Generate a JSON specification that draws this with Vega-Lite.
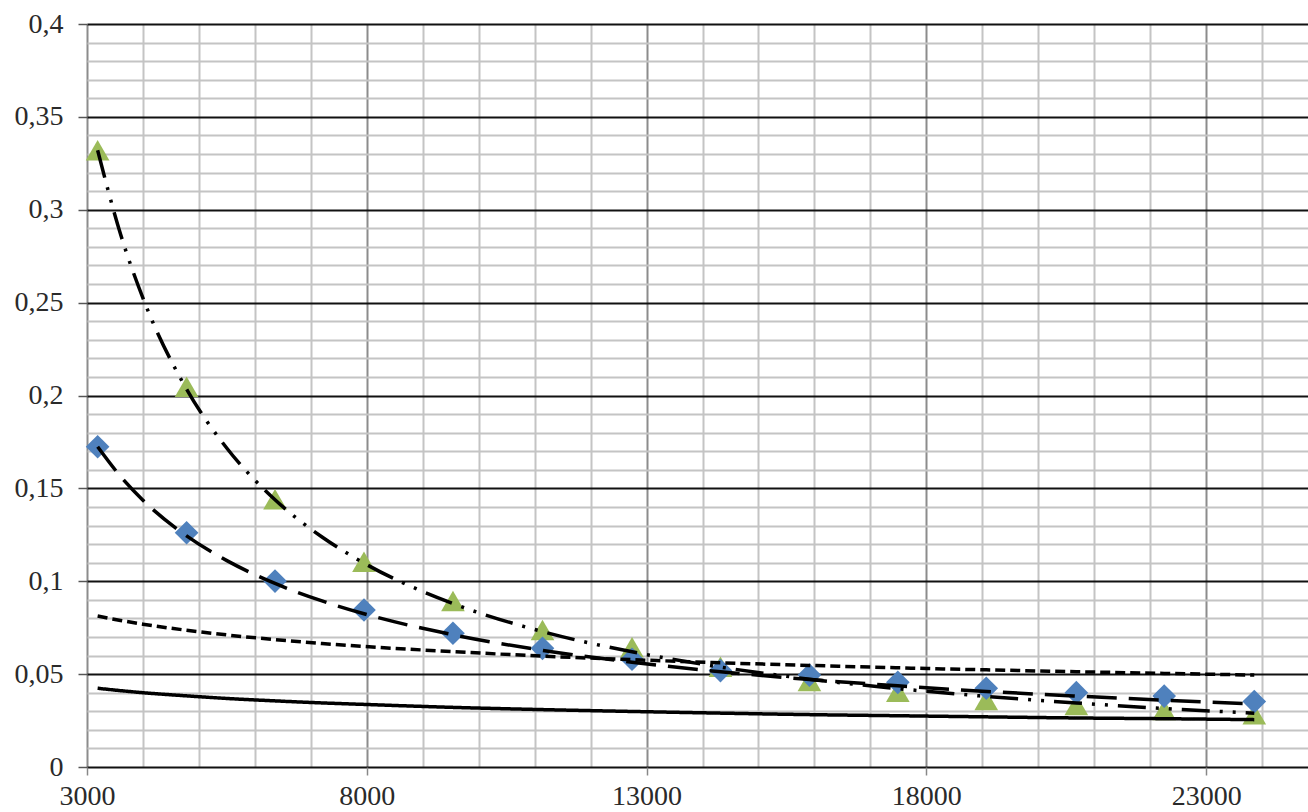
{
  "$schema": "https://vega.github.io/schema/vega-lite/v6.json",
  "width": 1221,
  "height": 743,
  "autosize": {"type": "none"},
  "padding": {"left": 87, "top": 24, "right": 0, "bottom": 45},
  "background": "white",
  "config": {"view": {"stroke": null}},
  "datasets": {
    "points": [
      {"x": 3190, "y": 0.332, "series": "G"},
      {"x": 4780, "y": 0.2047, "series": "G"},
      {"x": 6360, "y": 0.1441, "series": "G"},
      {"x": 7950, "y": 0.1105, "series": "G"},
      {"x": 9540, "y": 0.0894, "series": "G"},
      {"x": 11140, "y": 0.0738, "series": "G"},
      {"x": 12740, "y": 0.0645, "series": "G"},
      {"x": 14320, "y": 0.054, "series": "G"},
      {"x": 15910, "y": 0.0463, "series": "G"},
      {"x": 17490, "y": 0.0405, "series": "G"},
      {"x": 19070, "y": 0.0361, "series": "G"},
      {"x": 20680, "y": 0.0334, "series": "G"},
      {"x": 22250, "y": 0.0307, "series": "G"},
      {"x": 23860, "y": 0.0284, "series": "G"},
      {"x": 3190, "y": 0.1724, "series": "B"},
      {"x": 4780, "y": 0.1261, "series": "B"},
      {"x": 6360, "y": 0.1001, "series": "B"},
      {"x": 7950, "y": 0.0845, "series": "B"},
      {"x": 9540, "y": 0.072, "series": "B"},
      {"x": 11140, "y": 0.0639, "series": "B"},
      {"x": 12740, "y": 0.058, "series": "B"},
      {"x": 14320, "y": 0.0519, "series": "B"},
      {"x": 15910, "y": 0.0495, "series": "B"},
      {"x": 17490, "y": 0.0456, "series": "B"},
      {"x": 19070, "y": 0.0424, "series": "B"},
      {"x": 20680, "y": 0.04, "series": "B"},
      {"x": 22250, "y": 0.0382, "series": "B"},
      {"x": 23860, "y": 0.0352, "series": "B"}
    ],
    "curves": [
      {"x": 3190, "y": 0.332, "line": "G"},
      {"x": 3600, "y": 0.2868, "line": "G"},
      {"x": 4000, "y": 0.2524, "line": "G"},
      {"x": 4780, "y": 0.2034, "line": "G"},
      {"x": 5500, "y": 0.1716, "line": "G"},
      {"x": 6360, "y": 0.1439, "line": "G"},
      {"x": 7200, "y": 0.1238, "line": "G"},
      {"x": 7950, "y": 0.1098, "line": "G"},
      {"x": 9540, "y": 0.088, "line": "G"},
      {"x": 11140, "y": 0.0729, "line": "G"},
      {"x": 12740, "y": 0.062, "line": "G"},
      {"x": 14320, "y": 0.0538, "line": "G"},
      {"x": 15910, "y": 0.0473, "line": "G"},
      {"x": 17490, "y": 0.0422, "line": "G"},
      {"x": 19070, "y": 0.038, "line": "G"},
      {"x": 20680, "y": 0.0345, "line": "G"},
      {"x": 22250, "y": 0.0315, "line": "G"},
      {"x": 23860, "y": 0.029, "line": "G"},
      {"x": 3190, "y": 0.1724, "line": "B"},
      {"x": 3600, "y": 0.1564, "line": "B"},
      {"x": 4000, "y": 0.1436, "line": "B"},
      {"x": 4780, "y": 0.1244, "line": "B"},
      {"x": 5500, "y": 0.1111, "line": "B"},
      {"x": 6360, "y": 0.0988, "line": "B"},
      {"x": 7200, "y": 0.0894, "line": "B"},
      {"x": 7950, "y": 0.0825, "line": "B"},
      {"x": 9540, "y": 0.0712, "line": "B"},
      {"x": 11140, "y": 0.0628, "line": "B"},
      {"x": 12740, "y": 0.0564, "line": "B"},
      {"x": 14320, "y": 0.0513, "line": "B"},
      {"x": 15910, "y": 0.0471, "line": "B"},
      {"x": 17490, "y": 0.0437, "line": "B"},
      {"x": 19070, "y": 0.0407, "line": "B"},
      {"x": 20680, "y": 0.0382, "line": "B"},
      {"x": 22250, "y": 0.036, "line": "B"},
      {"x": 23860, "y": 0.034, "line": "B"},
      {"x": 3190, "y": 0.0813, "line": "S"},
      {"x": 3600, "y": 0.0789, "line": "S"},
      {"x": 4000, "y": 0.0769, "line": "S"},
      {"x": 4780, "y": 0.0736, "line": "S"},
      {"x": 5500, "y": 0.0711, "line": "S"},
      {"x": 6360, "y": 0.0686, "line": "S"},
      {"x": 7200, "y": 0.0665, "line": "S"},
      {"x": 7950, "y": 0.0649, "line": "S"},
      {"x": 9540, "y": 0.0621, "line": "S"},
      {"x": 11140, "y": 0.0597, "line": "S"},
      {"x": 12740, "y": 0.0578, "line": "S"},
      {"x": 14320, "y": 0.0561, "line": "S"},
      {"x": 15910, "y": 0.0547, "line": "S"},
      {"x": 17490, "y": 0.0534, "line": "S"},
      {"x": 19070, "y": 0.0523, "line": "S"},
      {"x": 20680, "y": 0.0513, "line": "S"},
      {"x": 22250, "y": 0.0504, "line": "S"},
      {"x": 23860, "y": 0.0495, "line": "S"},
      {"x": 3190, "y": 0.0424, "line": "P"},
      {"x": 3600, "y": 0.0411, "line": "P"},
      {"x": 4000, "y": 0.04, "line": "P"},
      {"x": 4780, "y": 0.0383, "line": "P"},
      {"x": 5500, "y": 0.0369, "line": "P"},
      {"x": 6360, "y": 0.0356, "line": "P"},
      {"x": 7200, "y": 0.0345, "line": "P"},
      {"x": 7950, "y": 0.0337, "line": "P"},
      {"x": 9540, "y": 0.0321, "line": "P"},
      {"x": 11140, "y": 0.0309, "line": "P"},
      {"x": 12740, "y": 0.0299, "line": "P"},
      {"x": 14320, "y": 0.029, "line": "P"},
      {"x": 15910, "y": 0.0282, "line": "P"},
      {"x": 17490, "y": 0.0276, "line": "P"},
      {"x": 19070, "y": 0.027, "line": "P"},
      {"x": 20680, "y": 0.0264, "line": "P"},
      {"x": 22250, "y": 0.026, "line": "P"},
      {"x": 23860, "y": 0.0255, "line": "P"}
    ]
  },
  "encoding": {
    "x": {
      "field": "x",
      "type": "quantitative",
      "scale": {"domain": [3000, 24820], "nice": false, "zero": false},
      "axis": {
        "title": null,
        "domain": false,
        "values": [3000, 4000, 5000, 6000, 7000, 8000, 9000, 10000, 11000, 12000, 13000, 14000, 15000, 16000, 17000, 18000, 19000, 20000, 21000, 22000, 23000, 24000],
        "labelExpr": "(datum.value - 3000) % 5000 === 0 ? format(datum.value, 'd') : ''",
        "labelFont": "Liberation Serif",
        "labelFontSize": 28,
        "labelColor": "#2a2a2a",
        "labelPadding": 7,
        "labelFlush": false,
        "labelOverlap": false,
        "labelBound": false,
        "tickSize": 8,
        "tickWidth": 1.5,
        "tickColor": {"condition": {"test": "(datum.value - 3000) % 5000 === 0", "value": "#888888"}, "value": "rgba(0,0,0,0)"},
        "grid": true,
        "gridColor": {"condition": {"test": "(datum.value - 3000) % 5000 === 0", "value": "#8c8c8c"}, "value": "#c4c4c4"},
        "gridWidth": 2,
        "gridOpacity": 1
      }
    },
    "y": {
      "field": "y",
      "type": "quantitative",
      "scale": {"domain": [0, 0.4], "nice": false},
      "axis": {
        "title": null,
        "domain": false,
        "values": [0, 0.01, 0.02, 0.03, 0.04, 0.05, 0.06, 0.07, 0.08, 0.09, 0.1, 0.11, 0.12, 0.13, 0.14, 0.15, 0.16, 0.17, 0.18, 0.19, 0.2, 0.21, 0.22, 0.23, 0.24, 0.25, 0.26, 0.27, 0.28, 0.29, 0.3, 0.31, 0.32, 0.33, 0.34, 0.35, 0.36, 0.37, 0.38, 0.39, 0.4],
        "labelExpr": "round(datum.value * 100) % 5 === 0 ? replace(format(datum.value, '~g'), '.', ',') : ''",
        "labelFont": "Liberation Serif",
        "labelFontSize": 28,
        "labelColor": "#2a2a2a",
        "labelPadding": 15,
        "labelOverlap": false,
        "labelBound": false,
        "tickSize": 9,
        "tickWidth": 1.5,
        "tickColor": {"condition": {"test": "round(datum.value * 100) % 5 === 0", "value": "#555555"}, "value": "rgba(0,0,0,0)"},
        "grid": true,
        "gridColor": {"condition": {"test": "round(datum.value * 100) % 5 === 0", "value": "#111111"}, "value": "#c4c4c4"},
        "gridWidth": 2,
        "gridOpacity": 1
      }
    }
  },
  "layer": [
    {
      "data": {"name": "points"},
      "mark": {"type": "point", "filled": true, "opacity": 1, "strokeWidth": 0},
      "encoding": {
        "shape": {"field": "series", "type": "nominal", "scale": {"domain": ["B", "G"], "range": ["diamond", "triangle-up"]}, "legend": null},
        "color": {"field": "series", "type": "nominal", "scale": {"domain": ["B", "G"], "range": ["#4F81BD", "#9BBB59"]}, "legend": null},
        "size": {"field": "series", "type": "nominal", "scale": {"domain": ["B", "G"], "range": [560, 560]}, "legend": null}
      }
    },
    {
      "data": {"name": "curves"},
      "mark": {"type": "line", "color": "#000000", "strokeWidth": 3.5, "interpolate": "monotone"},
      "encoding": {
        "detail": {"field": "line", "type": "nominal"},
        "strokeDash": {"field": "line", "type": "nominal", "scale": {"domain": ["G", "B", "S", "P"], "range": [[28, 10, 3, 10, 3, 10], [30, 12], [10, 5], [1, 0]]}, "legend": null}
      }
    }
  ]
}
